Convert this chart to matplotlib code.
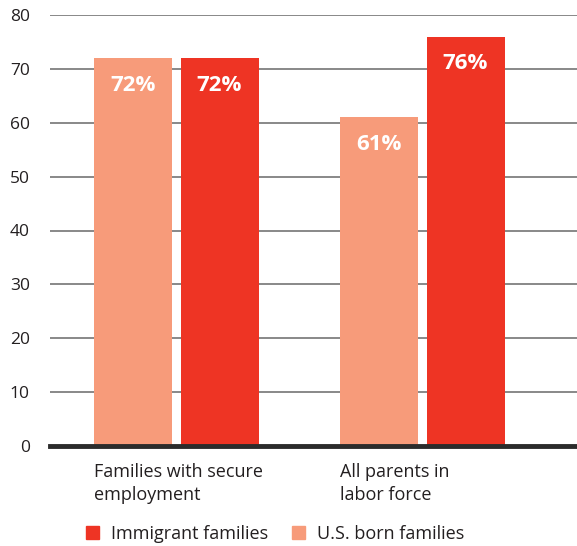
import matplotlib
matplotlib.use("Agg")
import matplotlib.pyplot as plt
from matplotlib.patches import Patch
import numpy as np

categories = ["Families with secure\nemployment", "All parents in\nlabor force"]
us_born = [72, 61]
immigrant = [72, 76]
series_names = ["Immigrant families", "U.S. born families"]
yticks = [0, 10, 20, 30, 40, 50, 60, 70, 80]

c_us = "#F79B7A"
c_imm = "#EE3424"

plt.rcParams["font.family"] = ["Open Sans", "DejaVu Sans"]

W, H = 577, 546
fig = plt.figure(figsize=(W / 100, H / 100), dpi=100)
ax = fig.add_axes([50 / W, (H - 446) / H, (W - 50) / W, 431 / H])

x = np.arange(len(categories))
bw = 0.317
off = 0.175

b_us = ax.bar(x - off, us_born, width=bw, color=c_us, zorder=3)
b_imm = ax.bar(x + off, immigrant, width=bw, color=c_imm, zorder=3)

for bars, vals in ((b_us, us_born), (b_imm, immigrant)):
    for rect, v in zip(bars, vals):
        ax.annotate(f"{v}%", (rect.get_x() + rect.get_width() / 2, v),
                    xytext=(0, -27), textcoords="offset pixels",
                    ha="center", va="center", color="white",
                    fontsize=16, fontweight="bold", zorder=4)

ax.set_ylim(0, 80)
ax.set_xlim(-0.514, 1.628)
ax.set_yticks(yticks)
ax.yaxis.grid(True, color="#7f7f7f", linewidth=1.3, zorder=0)
ax.tick_params(axis="y", length=0, pad=14.5, labelsize=12.5, labelcolor="#231f20")
for s in ax.spines.values():
    s.set_visible(False)
ax.axhline(0, color="#2b2b2b", linewidth=3.5, zorder=5, clip_on=False)

ax.set_xticks(x - off - bw / 2)
ax.set_xticklabels(categories, ha="left", fontsize=13, color="#231f20",
                   linespacing=1.35)
ax.tick_params(axis="x", length=0, pad=12)

handles = [Patch(color=c_imm), Patch(color=c_us)]
fig.legend(handles, series_names, loc="center left",
           bbox_to_anchor=(86 / W, (H - 534) / H), ncol=2, frameon=False,
           fontsize=13, handlelength=0.7, handleheight=0.7,
           handletextpad=0.7, columnspacing=1.3, borderpad=0,
           borderaxespad=0, labelcolor="#231f20")

fig.savefig("out.png", dpi=100)
